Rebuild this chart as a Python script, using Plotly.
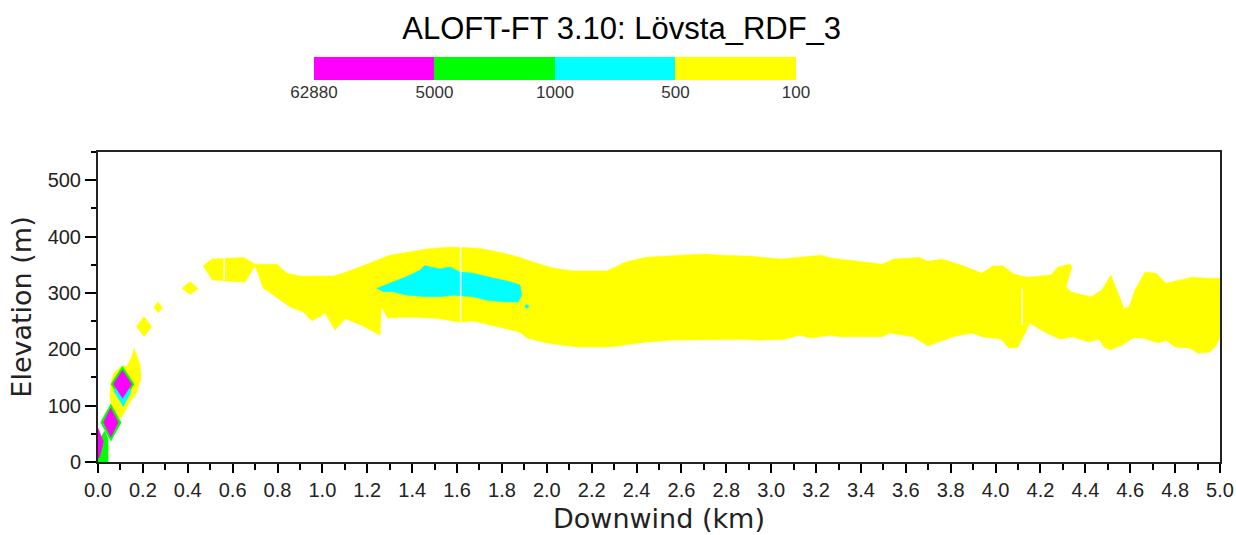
import plotly.graph_objects as go

# ---------------- data (km downwind, m elevation) ----------------
legend_labels = ["62880", "5000", "1000", "500", "100"]
legend_colors = ["#FF00FF", "#00FF00", "#00FFFF", "#FFFF00"]

# main 100-contour plume (yellow), outline top edge L->R then bottom edge R->L
plume_x = [0.468, 0.508, 0.651, 0.700, 0.735, 0.798, 0.842, 0.900, 1.047, 1.092, 1.154, 1.225,
           1.301, 1.377, 1.466, 1.555, 1.618, 1.702, 1.791, 1.881, 1.938, 2.028, 2.117, 2.237,
           2.268, 2.353, 2.438, 2.594, 2.709, 2.781, 2.914, 3.044, 3.102, 3.182, 3.222, 3.266,
           3.342, 3.494, 3.547, 3.659, 3.699, 3.761, 3.855, 3.939, 3.988, 4.033, 4.082, 4.144,
           4.247, 4.278, 4.332, 4.340, 4.314, 4.340, 4.425, 4.474, 4.514, 4.572, 4.595, 4.621,
           4.666, 4.715, 4.759, 4.875, 4.947, 5.000,
           5.000, 4.978, 4.955, 4.902, 4.866, 4.800, 4.759, 4.724, 4.657, 4.612, 4.563, 4.510,
           4.483, 4.461, 4.416, 4.340, 4.287, 4.220, 4.153, 4.100, 4.060, 4.024, 3.939, 3.895,
           3.810, 3.699, 3.632, 3.587, 3.529, 3.494, 3.307, 3.266, 3.173, 3.128, 3.061, 2.950,
           2.857, 2.549, 2.447, 2.371, 2.282, 2.135, 2.001, 1.912, 1.881, 1.791, 1.671, 1.613,
           1.524, 1.422, 1.346, 1.292, 1.263, 1.257, 1.172, 1.101, 1.056, 1.012, 0.954, 0.914,
           0.856, 0.824, 0.735, 0.713, 0.700, 0.655, 0.508]
plume_y = [348, 360, 363, 351, 351, 351, 335, 330, 330, 335, 344, 355,
           367, 372, 378, 381, 381, 379, 372, 363, 355, 344, 339, 339,
           339, 355, 363, 367, 369, 367, 365, 360, 362, 365, 367, 362,
           358, 351, 360, 363, 356, 360, 348, 335, 348, 348, 333, 328,
           332, 346, 351, 346, 310, 301, 293, 305, 332, 273, 275, 305,
           337, 335, 317, 328, 326, 326,
           220, 204, 195, 193, 202, 204, 216, 211, 220, 220, 207, 199,
           204, 218, 213, 222, 218, 230, 246, 204, 202, 218, 222, 229,
           222, 206, 222, 225, 229, 222, 222, 225, 220, 225, 218, 216,
           218, 216, 213, 209, 204, 204, 211, 220, 230, 239, 250, 248,
           254, 257, 257, 255, 275, 225, 243, 254, 234, 264, 250, 266,
           275, 284, 309, 335, 348, 319, 323]

# 500-contour core (cyan)
core_x = [1.242, 1.301, 1.376, 1.435, 1.457, 1.480, 1.524, 1.569, 1.613, 1.672, 1.732, 1.836,
          1.881, 1.888, 1.873, 1.821, 1.732, 1.672, 1.583, 1.524, 1.465, 1.376, 1.316, 1.271]
core_y = [308, 317, 329, 340, 349, 346, 343, 346, 337, 335, 329, 320,
          314, 296, 284, 284, 287, 293, 296, 293, 293, 296, 302, 302]
speck_x = [1.900, 1.910, 1.922, 1.910]
speck_y = [276, 280, 276, 272]

# isolated yellow puffs near the source
puff1_x = [0.373, 0.410, 0.447, 0.410]
puff1_y = [308, 320, 308, 297]
puff2_x = [0.249, 0.268, 0.287, 0.268]
puff2_y = [274, 284, 274, 264]
puff3_x = [0.171, 0.205, 0.239, 0.205]
puff3_y = [240, 258, 240, 222]

# yellow blob around second puff
blob_x = [0.160, 0.187, 0.192, 0.174, 0.138, 0.107, 0.089, 0.067, 0.053, 0.058, 0.071, 0.107, 0.129, 0.147]
blob_y = [202, 174, 149, 124, 103, 80, 78, 90, 115, 140, 158, 170, 170, 184]

# second high-concentration puff
green2_x = [0.057, 0.109, 0.161, 0.109]
green2_y = [138, 170, 138, 106]
cyan2_x = [0.070, 0.109, 0.148, 0.112]
cyan2_y = [125, 150, 125, 98]
mag2_x = [0.068, 0.109, 0.150, 0.109]
mag2_y = [138, 163, 138, 113]

# first puff
green1_x = [0.011, 0.057, 0.103, 0.057]
green1_y = [70, 103, 70, 37]
mag1_x = [0.024, 0.057, 0.090, 0.057]
mag1_y = [70, 96, 70, 44]

# source region
green0_x = [0.000, 0.045, 0.045, 0.030, 0.000]
green0_y = [0, 0, 40, 55, 35]
mag0_x = [0.000, 0.024, 0.008, 0.000]
mag0_y = [60, 36, 10, 6]

# white rendering seams
seam_x = [[0.563, 0.563], [1.616, 1.616], [4.118, 4.118]]
seam_y = [[323, 363], [249, 383], [243, 308]]

YEL, CYA, GRN, MAG = "#FFFF00", "#00FFFF", "#00FF00", "#FF00FF"

fig = go.Figure()

def poly(xs, ys, color):
    fig.add_trace(go.Scatter(x=xs, y=ys, mode="lines", fill="toself", fillcolor=color,
                             line=dict(width=0.5, color=color), hoverinfo="skip",
                             showlegend=False))

poly(plume_x, plume_y, YEL)
poly(puff1_x, puff1_y, YEL)
poly(puff2_x, puff2_y, YEL)
poly(puff3_x, puff3_y, YEL)
poly(blob_x, blob_y, YEL)
poly(core_x, core_y, CYA)
poly(speck_x, speck_y, CYA)
poly(green2_x, green2_y, GRN)
poly(cyan2_x, cyan2_y, CYA)
poly(mag2_x, mag2_y, MAG)
poly(green0_x, green0_y, GRN)
poly(green1_x, green1_y, GRN)
poly(mag1_x, mag1_y, MAG)
poly(mag0_x, mag0_y, MAG)

for sx, sy in zip(seam_x, seam_y):
    fig.add_trace(go.Scatter(x=sx, y=sy, mode="lines", line=dict(color="white", width=1.5),
                             hoverinfo="skip", showlegend=False))

# legend bar
n = len(legend_colors)
fig.add_trace(go.Heatmap(
    z=[list(range(n))], x=[i + 0.5 for i in range(n)], y=[0],
    colorscale=[[i / (n - 1), c] for i, c in enumerate(legend_colors)],
    zmin=0, zmax=n - 1, showscale=False, xaxis="x2", yaxis="y2", hoverinfo="skip"))

tick_font = dict(family="Liberation Sans, Arial, sans-serif", size=20, color="#222")
title_font = dict(family="DejaVu Sans, sans-serif", size=27, color="#222")

fig.update_layout(
    width=1236, height=535,
    margin=dict(l=98, r=16, t=57, b=73),
    paper_bgcolor="white", plot_bgcolor="white",
    title=dict(text="ALOFT-FT 3.10: Lövsta_RDF_3", x=0.503, xref="container",
               y=1 - 28 / 535, yref="container", xanchor="center", yanchor="middle",
               font=dict(family="Liberation Sans, Arial, sans-serif", size=31, color="black")),
    xaxis=dict(domain=[0, 1], range=[0, 5], anchor="y", tick0=0, dtick=0.2, tickformat=".1f",
               ticks="outside", ticklen=9, tickwidth=1.5, tickcolor="black", automargin=False,
               showline=True, linecolor="#222", linewidth=2, mirror=True,
               showgrid=False, zeroline=False, tickfont=tick_font,
               minor=dict(dtick=0.1, ticks="outside", ticklen=6, tickwidth=1.5, tickcolor="black"),
               title=dict(text="Downwind (km)", font=title_font, standoff=9)),
    yaxis=dict(domain=[0, 0.7654], range=[0, 550], anchor="x", tick0=0, dtick=100,
               ticks="outside", ticklen=11, tickwidth=1.5, tickcolor="black", automargin=False,
               showline=True, linecolor="#222", linewidth=2, mirror=True,
               showgrid=False, zeroline=False, tickfont=tick_font,
               minor=dict(dtick=50, ticks="outside", ticklen=5, tickwidth=1.5, tickcolor="black"),
               title=dict(text="Elevation (m)", font=title_font, standoff=8)),
    xaxis2=dict(domain=[0.1925, 0.6221], range=[0, n], anchor="y2", automargin=False,
                tickvals=list(range(n + 1)), ticktext=legend_labels, ticks="",
                showline=False, showgrid=False, zeroline=False,
                tickfont=dict(family="Liberation Sans, Arial, sans-serif", size=17, color="#333")),
    yaxis2=dict(domain=[0.9432, 1.0], range=[-0.5, 0.5], anchor="x2", visible=False),
)

fig.write_html("out.html")
